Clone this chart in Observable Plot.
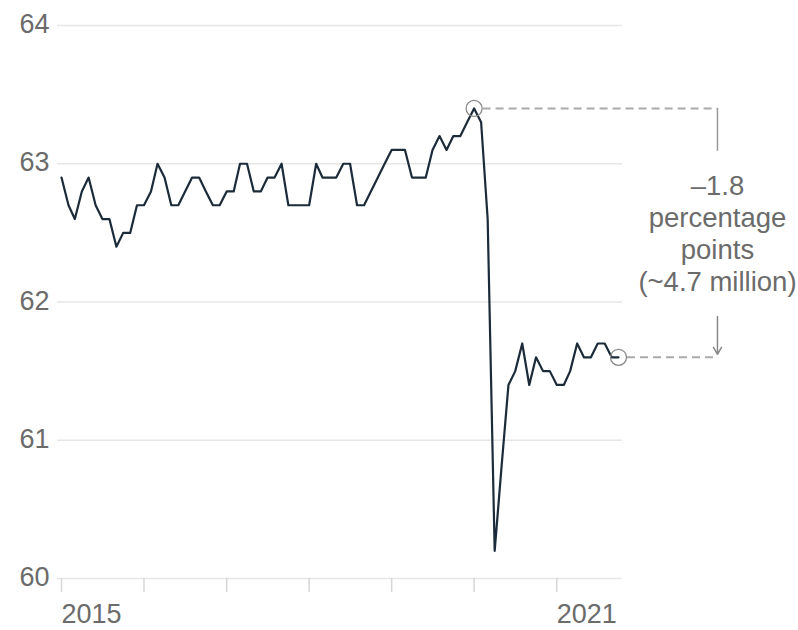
<!DOCTYPE html>
<html>
<head>
<meta charset="utf-8">
<script src="https://cdn.jsdelivr.net/npm/d3@7"></script>
<script src="https://cdn.jsdelivr.net/npm/@observablehq/plot@0.6"></script>
<style>
  body { margin: 0; background: #fff; }
</style>
</head>
<body>
<div id="chart"></div>
<script>
// Monthly labor-force participation rate (%), Jan 2015 – Oct 2021
const startYear = 2015;
const rate2015 = [62.9, 62.7, 62.6, 62.8, 62.9, 62.7, 62.6, 62.6, 62.4, 62.5, 62.5, 62.7];
const rate2016 = [62.7, 62.8, 63.0, 62.9, 62.7, 62.7, 62.8, 62.9, 62.9, 62.8, 62.7, 62.7];
const rate2017 = [62.8, 62.8, 63.0, 63.0, 62.8, 62.8, 62.9, 62.9, 63.0, 62.7, 62.7, 62.7];
const rate2018 = [62.7, 63.0, 62.9, 62.9, 62.9, 63.0, 63.0, 62.7, 62.7, 62.8, 62.9, 63.0];
const rate2019 = [63.1, 63.1, 63.1, 62.9, 62.9, 62.9, 63.1, 63.2, 63.1, 63.2, 63.2, 63.3];
const rate2020 = [63.4, 63.3, 62.6, 60.2, 60.8, 61.4, 61.5, 61.7, 61.4, 61.6, 61.5, 61.5];
const rate2021 = [61.4, 61.4, 61.5, 61.7, 61.6, 61.6, 61.7, 61.7, 61.6, 61.6];

const yTicks = [60, 61, 62, 63, 64];
const tickYears = [2015, 2016, 2017, 2018, 2019, 2020, 2021];
const labelledYears = [2015, 2021];
const annotationLines = ["\u20131.8", "percentage", "points", "(~4.7 million)"];
// annotation bracket placed in data space (date) to the right of the series
const annotationDate = new Date(Date.UTC(2022, 11, 13));

const values = [].concat(rate2015, rate2016, rate2017, rate2018, rate2019, rate2020, rate2021);
const data = values.map((v, i) => ({ date: new Date(Date.UTC(startYear, i, 1)), value: v }));
const peak = data.reduce((a, b) => (b.value > a.value ? b : a));
const latest = data[data.length - 1];
const xTicks = tickYears.map(y => new Date(Date.UTC(y, 0, 1)));

const grey = "#6b6b6b";

const chart = Plot.plot({
  width: 798,
  height: 630,
  marginTop: 25,
  marginBottom: 52,
  marginLeft: 57,
  marginRight: 176,
  style: {
    fontFamily: "'Liberation Sans', Arial, Helvetica, sans-serif",
    fontSize: "27px",
    color: grey,
    background: "#fff",
    overflow: "visible"
  },
  x: { type: "utc", domain: [data[0].date, latest.date], insetLeft: 4, insetRight: 4 },
  y: { domain: [60, 64] },
  marks: [
    Plot.ruleY(yTicks, { stroke: "#e6e6e6", strokeWidth: 1.5 }),
    Plot.axisY(yTicks, { tickSize: 0, tickPadding: 8, dy: -1, fill: grey, label: null, tickFormat: d => String(d) }),
    Plot.axisX(xTicks, {
      tickSize: 14,
      tickPadding: 11,
      stroke: "#d6d6d6",
      strokeWidth: 1.5,
      fill: grey,
      textAnchor: "start",
      label: null,
      tickFormat: d => (labelledYears.includes(d.getUTCFullYear()) ? String(d.getUTCFullYear()) : "")
    }),
    Plot.line(data, { x: "date", y: "value", stroke: "#1c2b39", strokeWidth: 2.2 }),
    Plot.dot([peak, latest], { x: "date", y: "value", r: 8, stroke: "#8a8a8a", strokeWidth: 1.3, fill: "none" }),
    Plot.ruleY([peak, latest], {
      y: "value",
      x1: "date",
      x2: () => annotationDate,
      insetLeft: 9,
      stroke: "#aaaaaa",
      strokeWidth: 2,
      strokeDasharray: "8,5"
    }),
    Plot.ruleX([{ top: peak.value, bottom: latest.value }], {
      x: () => annotationDate,
      y1: "top",
      y2: "bottom",
      insetBottom: 206,
      stroke: "#999",
      strokeWidth: 1.5
    }),
    Plot.arrow([{ top: peak.value, bottom: latest.value }], {
      x: () => annotationDate,
      y1: "top",
      y2: "bottom",
      insetStart: 208,
      insetEnd: 3,
      headLength: 8,
      stroke: "#888",
      strokeWidth: 1.5
    }),
    Plot.text([annotationLines.join("\n")], {
      x: () => annotationDate,
      y: () => (peak.value + latest.value) / 2,
      text: d => d,
      dx: 0,
      lineHeight: 1.16,
      textAnchor: "middle",
      fontSize: 27.5,
      fill: grey
    })
  ]
});

document.getElementById("chart").append(chart);
</script>
</body>
</html>
